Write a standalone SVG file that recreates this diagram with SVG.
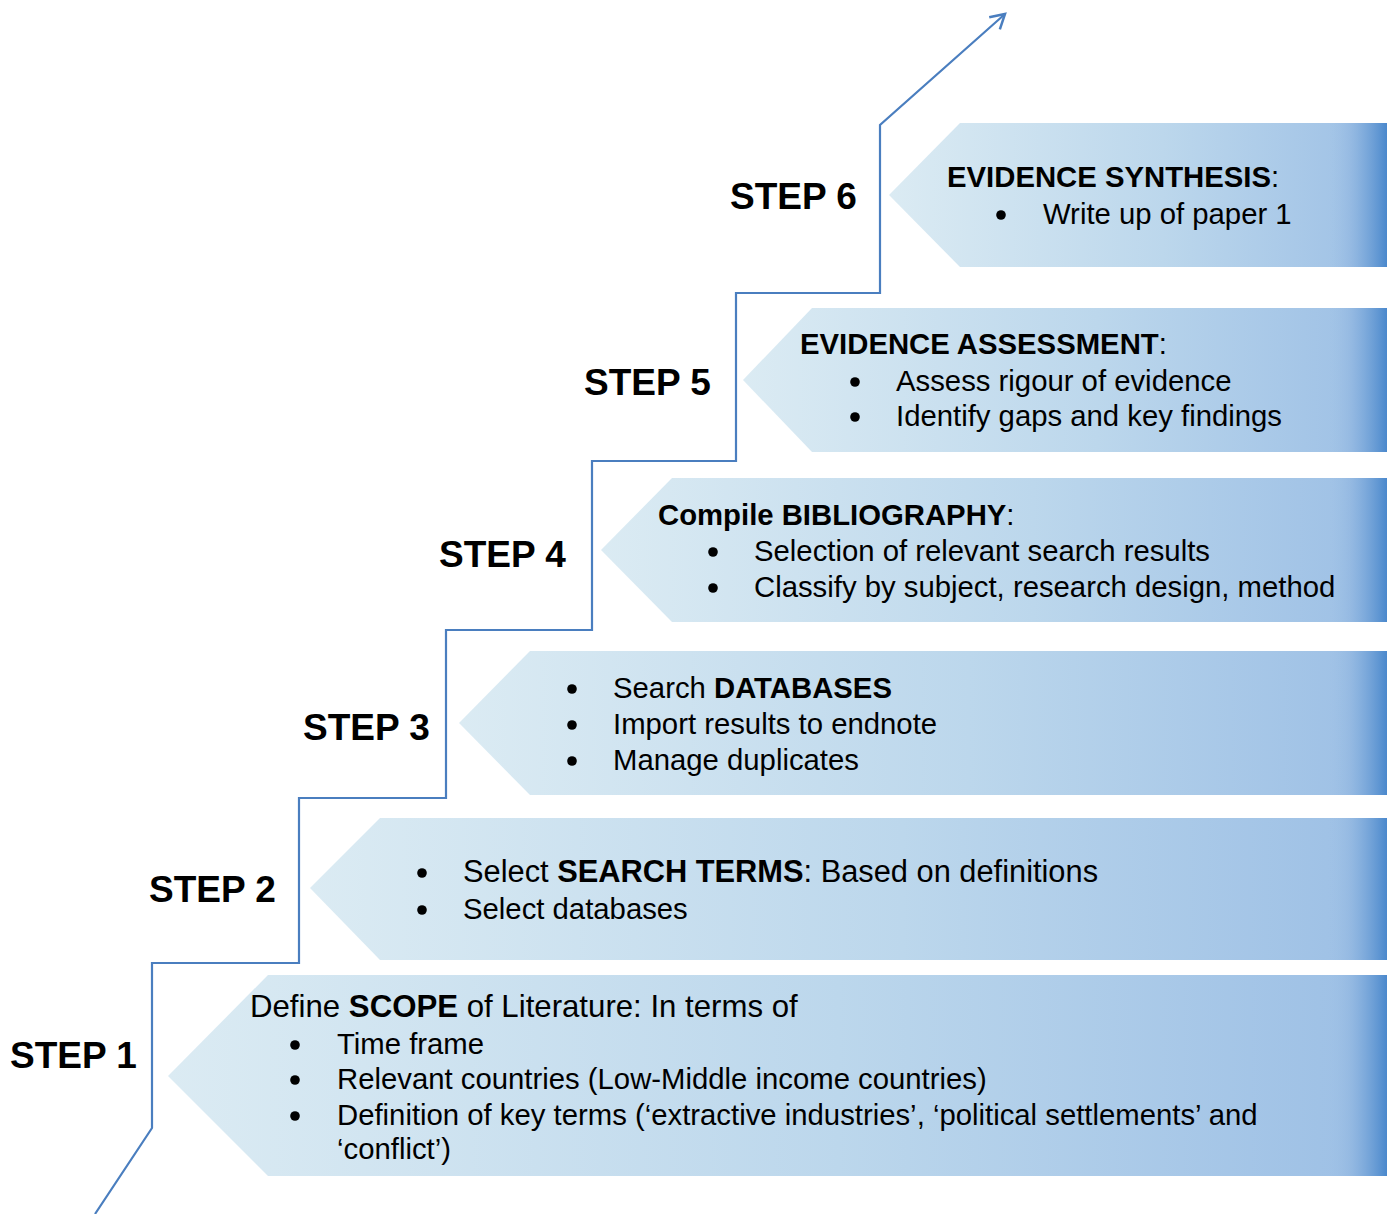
<svg xmlns="http://www.w3.org/2000/svg" width="1387" height="1214" viewBox="0 0 1387 1214">
<defs>
<linearGradient id="fill" x1="0" y1="0" x2="1" y2="0">
<stop offset="0" stop-color="#dbebf3"/>
<stop offset="0.55" stop-color="#bcd7ec"/>
<stop offset="1" stop-color="#9cbfe5"/>
</linearGradient>
<linearGradient id="edge" gradientUnits="userSpaceOnUse" x1="1330" y1="0" x2="1387" y2="0">
<stop offset="0" stop-color="#9cbfe5" stop-opacity="0"/>
<stop offset="0.35" stop-color="#8fb5e0" stop-opacity="0.6"/>
<stop offset="1" stop-color="#4a88cc"/>
</linearGradient>
<marker id="arr" viewBox="0 0 20 20" refX="16" refY="10" markerWidth="20" markerHeight="20" markerUnits="userSpaceOnUse" orient="auto">
<path d="M2,2 L16,10 L2,18" fill="none" stroke="#4a7ebf" stroke-width="2.5"/>
</marker>
</defs>
<style>
.box{fill:url(#fill)}
.edge{fill:url(#edge)}
.step{font-family:"Liberation Sans",Arial,sans-serif;font-weight:bold;font-size:37px;fill:#000}
.t{font-family:"Liberation Sans",Arial,sans-serif;font-size:29.3px;fill:#000}
.big{font-size:31.2px}
.mid{font-size:30.8px}
.b{font-weight:bold}
.dot{fill:#000}
.line{fill:none;stroke:#4a7ebf;stroke-width:2.2}
</style>
<rect width="1387" height="1214" fill="#fff"/>

<g id="connectors">
<polyline class="line" points="95,1214 152,1128 152,963 299,963 299,798 446,798 446,630 592,630 592,461 736,461 736,293 880,293 880,125 1005,14" marker-end="url(#arr)"/>
</g>

<g id="step1">
<polygon class="box" points="168,1076 268,975 1387,975 1387,1176 268,1176"/>
<rect class="edge" x="1330" y="975" width="57" height="201"/>
<text class="step" x="10" y="1068">STEP 1</text>
<text class="t big" x="250" y="1017">Define <tspan class="b">SCOPE</tspan> of Literature: In terms of</text>
<circle class="dot" cx="295" cy="1045" r="4.8"/><text class="t" x="337" y="1054">Time frame</text>
<circle class="dot" cx="295" cy="1080" r="4.8"/><text class="t" x="337" y="1089">Relevant countries (Low-Middle income countries)</text>
<circle class="dot" cx="295" cy="1116" r="4.8"/><text class="t" x="337" y="1125">Definition of key terms (‘extractive industries’, ‘political settlements’ and</text>
<text class="t" x="337" y="1159">‘conflict’)</text>
</g>

<g id="step2">
<polygon class="box" points="310,888 380,818 1387,818 1387,960 380,960"/>
<rect class="edge" x="1330" y="818" width="57" height="142"/>
<text class="step" x="149" y="902">STEP 2</text>
<circle class="dot" cx="422" cy="873" r="4.8"/><text class="t mid" x="463" y="882">Select <tspan class="b">SEARCH TERMS</tspan>: Based on definitions</text>
<circle class="dot" cx="422" cy="910" r="4.8"/><text class="t" x="463" y="919">Select databases</text>
</g>

<g id="step3">
<polygon class="box" points="459,723 530,651 1387,651 1387,795 530,795"/>
<rect class="edge" x="1330" y="651" width="57" height="144"/>
<text class="step" x="303" y="740">STEP 3</text>
<circle class="dot" cx="572" cy="689" r="4.8"/><text class="t" x="613" y="698">Search <tspan class="b">DATABASES</tspan></text>
<circle class="dot" cx="572" cy="725" r="4.8"/><text class="t" x="613" y="734">Import results to endnote</text>
<circle class="dot" cx="572" cy="761" r="4.8"/><text class="t" x="613" y="770">Manage duplicates</text>
</g>

<g id="step4">
<polygon class="box" points="601,550 672,478 1387,478 1387,622 672,622"/>
<rect class="edge" x="1330" y="478" width="57" height="144"/>
<text class="step" x="439" y="567">STEP 4</text>
<text class="t" x="658" y="525"><tspan class="b">Compile BIBLIOGRAPHY</tspan>:</text>
<circle class="dot" cx="713" cy="552" r="4.8"/><text class="t" x="754" y="561">Selection of relevant search results</text>
<circle class="dot" cx="713" cy="588" r="4.8"/><text class="t" x="754" y="597">Classify by subject, research design, method</text>
</g>

<g id="step5">
<polygon class="box" points="743,380 812,308 1387,308 1387,452 812,452"/>
<rect class="edge" x="1330" y="308" width="57" height="144"/>
<text class="step" x="584" y="395">STEP 5</text>
<text class="t" x="800" y="354"><tspan class="b">EVIDENCE ASSESSMENT</tspan>:</text>
<circle class="dot" cx="855" cy="382" r="4.8"/><text class="t" x="896" y="391">Assess rigour of evidence</text>
<circle class="dot" cx="855" cy="417" r="4.8"/><text class="t" x="896" y="426">Identify gaps and key findings</text>
</g>

<g id="step6">
<polygon class="box" points="889,195 960,123 1387,123 1387,267 960,267"/>
<rect class="edge" x="1330" y="123" width="57" height="144"/>
<text class="step" x="730" y="209">STEP 6</text>
<text class="t" x="947" y="187"><tspan class="b">EVIDENCE SYNTHESIS</tspan>:</text>
<circle class="dot" cx="1001" cy="215" r="4.8"/><text class="t" x="1043" y="224">Write up of paper 1</text>
</g>
</svg>
